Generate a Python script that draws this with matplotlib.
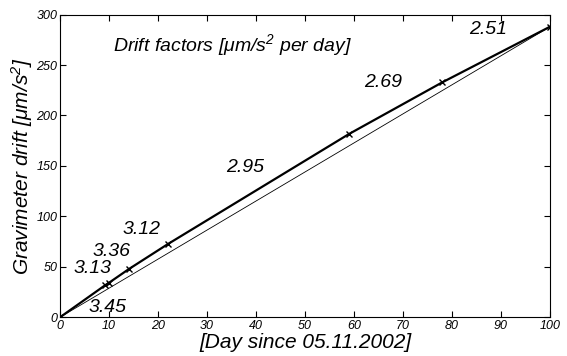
import matplotlib
matplotlib.use('Agg')
import matplotlib.pyplot as plt

plt.rcParams['font.family'] = ['Liberation Sans', 'DejaVu Sans']
plt.rcParams['mathtext.fontset'] = 'custom'
plt.rcParams['mathtext.it'] = 'Liberation Sans:italic'
plt.rcParams['mathtext.rm'] = 'Liberation Sans:italic'

# measured drift (days since 05.11.2002, um/s^2)
days = [0, 9.2, 10, 14, 22, 59, 78, 100]
drift = [0, 31.7, 34.2, 47.6, 72.5, 181.7, 232.8, 288]

# drift factor per interval and where the labels sit
factors = ['3.45', '3.13', '3.36', '3.12', '2.95', '2.69', '2.51']
label_x = [9.6, 6.7, 10.4, 16.7, 37.8, 66, 87.3]
label_y = [10, 48, 65, 86.5, 148, 233, 285]

fig = plt.figure(figsize=(5.67, 3.56), dpi=100)
ax = fig.add_axes([0.106, 0.109, 0.864, 0.850])

# thin straight line first point -> last point
ax.plot([days[0], days[-1]], [drift[0], drift[-1]], color='black', lw=0.6)
ax.plot(days, drift, color='black', lw=1.6, marker='x', ms=4, mew=1)

for t, x, y in zip(factors, label_x, label_y):
    ax.text(x, y, t, fontsize=14, style='italic', ha='center', va='center')

ax.text(10.8, 270, 'Drift factors [$\\mu$m/s$^2$ per day]', fontsize=14,
        style='italic', ha='left', va='center')

ax.set_xlim(0, 100)
ax.set_ylim(0, 300)
ax.set_xticks(range(0, 101, 10))
ax.set_yticks(range(0, 301, 50))
ax.tick_params(direction='in', top=True, right=True, length=4, labelsize=9, pad=2)
for lab in ax.get_xticklabels() + ax.get_yticklabels():
    lab.set_style('italic')

ax.set_xlabel('[Day since 05.11.2002]', fontsize=15, style='italic', labelpad=1)
ax.set_ylabel('Gravimeter drift [$\\mu$m/s$^2$]', fontsize=15, style='italic', labelpad=1)

fig.savefig('out.png', dpi=100)
